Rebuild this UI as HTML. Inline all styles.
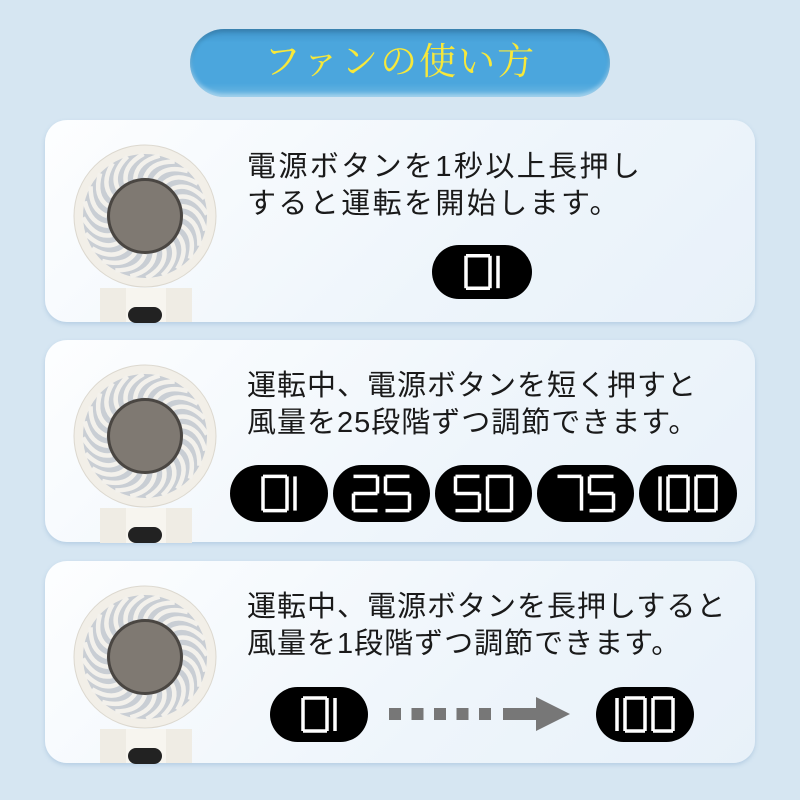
<!DOCTYPE html>
<html><head><meta charset="utf-8"><style>
body{margin:0;width:800px;height:800px;background:#d6e6f2;overflow:hidden;position:relative;font-family:"Liberation Sans","Noto Sans CJK JP",sans-serif}
.title{position:absolute;left:190px;top:29px;width:420px;height:68px;border-radius:34px;background:linear-gradient(#3f93c9,#4ba6dd 20%,#4ba6dd 80%,#6fb8e2);box-shadow:inset 0 -3px 4px rgba(255,255,255,.4),inset 0 3px 4px rgba(0,0,0,.15);color:#f7e83a;font-family:"Liberation Serif","Noto Serif CJK SC",serif;font-size:37px;text-align:center;line-height:68px;letter-spacing:2px}
.panel{position:absolute;left:45px;width:710px;height:202px;border-radius:22px;background:linear-gradient(135deg,#fdfeff,#eef5fb 60%,#e8f1f9);box-shadow:0 2px 4px rgba(120,160,200,.35)}
.txt{position:absolute;left:247px;font-size:29px;line-height:37px;color:#1a1a1a;letter-spacing:1px;white-space:nowrap}
svg{position:absolute;left:0;top:0}
</style></head><body>
<div class="title">ファンの使い方</div>
<div class="panel" style="top:120px"></div>
<div class="panel" style="top:340px"></div>
<div class="panel" style="top:561px"></div>
<div class="txt" style="top:149px;letter-spacing:2.4px">電源ボタンを1秒以上長押し<br>すると運転を開始します。</div>
<div class="txt" style="top:368px">運転中、電源ボタンを短く押すと<br>風量を25段階ずつ調節できます。</div>
<div class="txt" style="top:589px">運転中、電源ボタンを長押しすると<br>風量を1段階ずつ調節できます。</div>
<svg id="s" width="800" height="800"></svg>
<script>
var s=document.getElementById('s'),h='';
function fan(cx,cy,bot){
 h+='<rect x="100" y="'+(cy+72)+'" width="92" height="'+(bot-cy-72)+'" fill="#efece4"/>';
 h+='<rect x="126" y="'+(cy+72)+'" width="40" height="'+(bot-cy-72)+'" fill="#f7f5ef"/>';
 h+='<rect x="128" y="'+(cy+91)+'" width="34" height="16" rx="8" fill="#222"/>';
 h+='<circle cx="'+cx+'" cy="'+cy+'" r="71" fill="#f2efe8" stroke="#dcd8cf" stroke-width="1"/>';
 h+='<circle cx="'+cx+'" cy="'+cy+'" r="62" fill="#c9ced4"/>';
 for(var i=0;i<24;i++){var a=i*Math.PI/12,b=a+0.5;
  h+='<path d="M'+(cx+38*Math.cos(a))+' '+(cy+38*Math.sin(a))+' Q'+(cx+55*Math.cos(a+0.1))+' '+(cy+55*Math.sin(a+0.1))+' '+(cx+62*Math.cos(b))+' '+(cy+62*Math.sin(b))+'" stroke="#f3f1ec" stroke-width="4.5" fill="none"/>';}
 h+='<circle cx="'+cx+'" cy="'+cy+'" r="38" fill="#4a4642"/>';
 h+='<circle cx="'+cx+'" cy="'+cy+'" r="35" fill="#7f7972"/>';
}
fan(145,216,322);fan(145,436,543);fan(145,657,763);
var SEG={0:'abcdef',1:'bc',2:'abged',5:'afgcd',7:'abc'};
function digit(x,y,d,w,hh){var p={a:[[x,y],[x+w,y]],b:[[x+w,y],[x+w,y+hh/2]],c:[[x+w,y+hh/2],[x+w,y+hh]],d:[[x,y+hh],[x+w,y+hh]],e:[[x,y+hh/2],[x,y+hh]],f:[[x,y],[x,y+hh/2]],g:[[x,y+hh/2],[x+w,y+hh/2]]};
 SEG[d].split('').forEach(function(k){var q=p[k];h+='<line x1="'+q[0][0]+'" y1="'+q[0][1]+'" x2="'+q[1][0]+'" y2="'+q[1][1]+'" stroke="#fff" stroke-width="3.5"/>';});}
function pill(x,y,w,ht,str){h+='<rect x="'+x+'" y="'+y+'" width="'+w+'" height="'+ht+'" rx="'+ht/2+'" fill="#000"/>';
 var dw=str.length==3?20:24,gap=8,tot=0,ws=[];
 for(var i=0;i<str.length;i++){var ww=str[i]=='1'?0:dw;ws.push(ww);tot+=ww+(i?gap:0);}
 var cx=x+(w-tot)/2;for(var i=0;i<str.length;i++){var d=str[i];if(d=='1'){digit(cx-dw,y+ht*0.2,1,dw,ht*0.6);}else digit(cx,y+ht*0.2,d,dw,ht*0.6);cx+=ws[i]+gap;}}
pill(432,245,100,54,'01');
pill(230,465,98,57,'01');pill(333,465,97,57,'25');pill(435,465,97,57,'50');pill(537,465,97,57,'75');pill(639,465,98,57,'100');
pill(270,687,98,55,'01');pill(596,687,98,55,'100');
for(var i=0;i<5;i++)h+='<rect x="'+(389+i*22.5)+'" y="708" width="12" height="12" fill="#777"/>';
h+='<rect x="503" y="708" width="36" height="12" fill="#777"/><polygon points="536,697 570,714 536,731" fill="#777"/>';
s.innerHTML=h;
</script>
</body></html>
